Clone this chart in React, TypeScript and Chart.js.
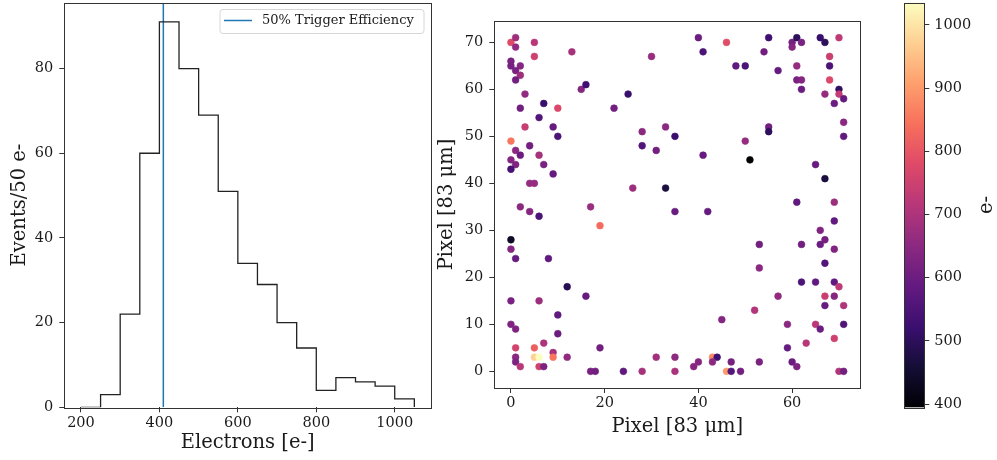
import React, { useEffect, useRef } from 'react';
import { Chart, registerables } from 'chart.js';

Chart.register(...registerables);

// ---------- Histogram data ----------
const binEdges = [200, 250, 300, 350, 400, 450, 500, 550, 600, 650, 700, 750, 800, 850, 900, 950, 1000, 1050];
const eventCounts = [0, 3, 22, 60, 91, 80, 69, 51, 34, 29, 20, 14, 4, 7, 6, 5, 2];
const triggerThreshold = 410;
const electronTicks = [200, 400, 600, 800, 1000];
const countTicks = [0, 20, 40, 60, 80];

// ---------- Scatter data ----------
const pixelX = [
  0, 1, 1, 0, 0, 2, 1, 2, 1, 5, 5, 13, 3, 2, 7, 10, 6, 3, 9, 10,
  0, 4, 1, 0, 2, 6, 1, 7, 0, 9, 4, 5, 2, 4, 6, 0, 15, 16, 17, 19,
  22, 25, 26, 28, 28, 30, 31, 33, 35, 33, 35, 40, 41, 41, 42, 46, 48, 50, 50, 51,
  54, 55, 57, 55, 55, 60, 60, 61, 62, 61, 61, 62, 62, 61, 65, 66, 67, 68, 68, 68,
  70, 67, 70, 70, 69, 71, 71, 71, 67, 69, 69, 66, 67,
  0, 1, 8, 12, 0, 6, 16, 0, 1, 10, 10, 1, 5, 7, 1, 1, 2, 5, 6, 6,
  7, 9, 9, 12, 17, 18, 19, 24, 28, 31, 35, 35, 39, 40, 43, 44, 43, 45, 46, 47,
  47, 49, 52, 53, 53, 53, 57, 59, 59, 60, 61, 62, 62, 63, 65, 65, 66, 66, 67, 67,
  67, 69, 69, 69, 70, 71, 71, 69, 70, 71,
];
const pixelY = [
  70, 71, 69, 66, 65, 65, 64, 63, 62, 70, 67, 68, 59, 56, 57, 56, 54, 52, 52, 50,
  49, 48, 47, 45, 46, 46, 44, 44, 43, 42, 40, 40, 35, 34, 33, 28, 60, 61, 35, 31,
  56, 59, 39, 51, 48, 67, 47, 52, 50, 39, 34, 71, 68, 46, 34, 70, 65, 65, 49, 45,
  68, 71, 64, 52, 51, 70, 69, 71, 70, 65, 62, 62, 60, 36, 44, 71, 70, 67, 65, 62,
  71, 59, 60, 59, 57, 58, 53, 50, 41, 36, 32, 30, 28,
  26, 24, 24, 18, 15, 15, 16, 10, 9, 12, 8, 5, 5, 6, 3, 2, 1, 3, 3, 1,
  1, 4, 3, 3, 0, 0, 5, 0, 0, 3, 3, 0, 1, 2, 3, 3, 2, 11, 0, 0,
  2, 0, 13, 27, 22, 2, 16, 10, 5, 2, 1, 27, 19, 6, 19, 10, 9, 27, 23, 16,
  14, 26, 19, 16, 18, 14, 10, 7, 0, 0,
];
const electrons = [
  780, 680, 660, 620, 615, 640, 620, 680, 610, 715, 755, 690, 660, 610, 520, 775, 560, 740, 590, 550,
  850, 610, 650, 640, 600, 690, 630, 620, 540, 590, 665, 665, 650, 640, 550, 440, 640, 530, 670, 835,
  610, 520, 675, 650, 560, 670, 610, 650, 520, 470, 595, 600, 550, 590, 590, 785, 580, 550, 665, 395,
  610, 530, 590, 610, 500, 615, 640, 500, 620, 665, 620, 640, 600, 580, 590, 520, 500, 745, 550, 775,
  725, 665, 505, 735, 600, 590, 650, 580, 470, 675, 580, 630, 615,
  640, 590, 580, 490, 620, 675, 590, 630, 630, 580, 600, 760, 815, 700, 650, 625, 715, 975, 1035, 755,
  625, 690, 850, 660, 620, 610, 610, 580, 690, 685, 655, 695, 640, 640, 880, 530, 650, 640, 900, 560,
  615, 610, 710, 610, 650, 620, 660, 650, 590, 600, 630, 610, 550, 715, 580, 720, 600, 600, 560, 745,
  590, 630, 580, 640, 725, 705, 555, 755, 705, 610,
];
const pixelTicksX = [0, 20, 40, 60];
const pixelTicksY = [0, 10, 20, 30, 40, 50, 60, 70];
const colorbarTicks = [400, 500, 600, 700, 800, 900, 1000];

// magma colormap (palette, 11 evenly spaced stops)
const magmaStops = ['#000004', '#140e36', '#3b0f70', '#641a80', '#8c2981', '#b73779', '#de4968', '#f7705c', '#fe9f6d', '#fecf92', '#fcfdbf'];

const FONT = "'DejaVu Serif', serif";
const TEXT = '#1a1a1a';
const EDGE = '#333333';

function hexToRgb(h: string) {
  const n = parseInt(h.slice(1), 16);
  return [(n >> 16) & 255, (n >> 8) & 255, n & 255];
}
function magma(t: number) {
  const c = Math.min(1, Math.max(0, t)) * (magmaStops.length - 1);
  const i = Math.min(magmaStops.length - 2, Math.floor(c));
  const f = c - i;
  const a = hexToRgb(magmaStops[i]);
  const b = hexToRgb(magmaStops[i + 1]);
  const r = a.map((v, k) => Math.round(v + (b[k] - v) * f));
  return `rgb(${r[0]},${r[1]},${r[2]})`;
}

const vMin = Math.min(...electrons);
const vMax = Math.max(...electrons);

function fixedTicks(values: number[]) {
  return (s: any) => {
    s.ticks = values.map((v) => ({ value: v }));
  };
}
function fixWidth(w: number) {
  return (s: any) => {
    s.width = w;
    s.paddingTop = 0; s.paddingBottom = 0; s.paddingLeft = 0; s.paddingRight = 0;
  };
}
function fixHeight(h: number) {
  return (s: any) => {
    s.height = h;
    s.paddingTop = 0; s.paddingBottom = 0; s.paddingLeft = 0; s.paddingRight = 0;
  };
}
const plainLabel = (v: any) => String(v);

const framePlugin = {
  id: 'frame',
  afterDatasetsDraw(chart: any) {
    const { ctx, chartArea: a } = chart;
    ctx.save();
    ctx.strokeStyle = EDGE;
    ctx.lineWidth = 1;
    ctx.strokeRect(Math.round(a.left) + 0.5, Math.round(a.top) + 0.5, Math.round(a.right - a.left), Math.round(a.bottom - a.top));
    ctx.restore();
  },
};

const tickFont = { family: FONT, size: 14.5 };
const titleFont = { family: FONT, size: 19.5 };
const gridOpts = { display: true, drawOnChartArea: false, drawTicks: true, tickLength: 5, tickColor: EDGE, tickWidth: 1 };

function HistogramChart() {
  const ref = useRef<HTMLCanvasElement>(null);
  useEffect(() => {
    const yMax = Math.max(...eventCounts) * 1.05;
    const span = binEdges[binEdges.length - 1] - binEdges[0];
    const xMin = binEdges[0] - span * 0.05;
    const xMax = binEdges[binEdges.length - 1] + span * 0.05;
    const histPoints = eventCounts.map((c, i) => ({ x: binEdges[i], y: c }));
    histPoints.push({ x: binEdges[binEdges.length - 1], y: 0 });

    const legendPlugin = {
      id: 'legendBox',
      afterDatasetsDraw(chart: any) {
        const { ctx } = chart;
        const ds = chart.data.datasets[1];
        ctx.save();
        const x = 220, y = 9.5, w = 204, h = 24, r = 3;
        ctx.beginPath();
        ctx.moveTo(x + r, y);
        ctx.arcTo(x + w, y, x + w, y + h, r);
        ctx.arcTo(x + w, y + h, x, y + h, r);
        ctx.arcTo(x, y + h, x, y, r);
        ctx.arcTo(x, y, x + w, y, r);
        ctx.closePath();
        ctx.fillStyle = 'rgba(255,255,255,0.85)';
        ctx.fill();
        ctx.strokeStyle = '#d6d6d6';
        ctx.lineWidth = 1;
        ctx.stroke();
        ctx.beginPath();
        ctx.moveTo(224, 20.5);
        ctx.lineTo(252, 20.5);
        ctx.strokeStyle = ds.borderColor;
        ctx.lineWidth = 1.5;
        ctx.stroke();
        ctx.fillStyle = TEXT;
        ctx.font = `13px ${FONT}`;
        ctx.textBaseline = 'middle';
        ctx.fillText(ds.label, 262, 21);
        ctx.restore();
      },
    };

    const chart = new Chart(ref.current!, {
      type: 'line',
      data: {
        datasets: [
          { label: 'Histogram', data: histPoints, stepped: true, borderColor: '#222222', borderWidth: 1.3, pointRadius: 0, fill: false },
          { label: '50% Trigger Efficiency', data: [{ x: triggerThreshold, y: 0 }, { x: triggerThreshold, y: yMax }], borderColor: '#1f77b4', borderWidth: 1.5, pointRadius: 0, fill: false },
        ],
      },
      options: {
        animation: false,
        responsive: false,
        events: [],
        layout: { padding: { top: 2.7, right: 9, left: 0, bottom: 0 } },
        scales: {
          x: {
            type: 'linear', min: xMin, max: xMax,
            afterFit: fixHeight(52.7),
            afterBuildTicks: fixedTicks(electronTicks),
            ticks: { font: tickFont, color: TEXT, padding: 2, maxRotation: 0, autoSkip: false, callback: plainLabel },
            grid: gridOpts, border: { display: false },
            title: { display: true, text: 'Electrons [e-]', font: titleFont, color: TEXT, padding: { top: 0, bottom: 5.3 } },
          },
          y: {
            type: 'linear', min: 0, max: yMax,
            afterFit: fixWidth(64.3),
            afterBuildTicks: fixedTicks(countTicks),
            ticks: { font: tickFont, color: TEXT, padding: 6, callback: plainLabel },
            grid: gridOpts, border: { display: false },
            title: { display: true, text: 'Events/50 e-', font: titleFont, color: TEXT, padding: { top: 8.3, bottom: 0 } },
          },
        },
        plugins: { legend: { display: false }, tooltip: { enabled: false } },
      },
      plugins: [framePlugin, legendPlugin],
    } as any);
    return () => chart.destroy();
  }, []);
  return <canvas ref={ref} width={440} height={460} style={{ position: 'absolute', left: 0, top: 0 }} />;
}

function ScatterChart() {
  const ref = useRef<HTMLCanvasElement>(null);
  useEffect(() => {
    const xr = Math.max(...pixelX) - Math.min(...pixelX);
    const yr = Math.max(...pixelY) - Math.min(...pixelY);
    const points = pixelX.map((x, i) => ({ x, y: pixelY[i] }));
    const colors = electrons.map((v) => magma((v - vMin) / (vMax - vMin)));
    const chart = new Chart(ref.current!, {
      type: 'scatter',
      data: {
        datasets: [
          { label: 'Hits', data: points, backgroundColor: colors, borderColor: colors, borderWidth: 0.6, pointRadius: 3.4, pointHoverRadius: 3.4 },
        ],
      },
      options: {
        animation: false,
        responsive: false,
        events: [],
        layout: { padding: { top: 21, right: 9.7, left: 0, bottom: 0 } },
        scales: {
          x: {
            type: 'linear', min: Math.min(...pixelX) - xr * 0.05, max: Math.max(...pixelX) + xr * 0.05,
            afterFit: fixHeight(72),
            afterBuildTicks: fixedTicks(pixelTicksX),
            ticks: { font: tickFont, color: TEXT, padding: 2, maxRotation: 0, autoSkip: false, callback: plainLabel },
            grid: gridOpts, border: { display: false },
            title: { display: true, text: 'Pixel [83 μm]', font: titleFont, color: TEXT, padding: { top: 0, bottom: 21.3 } },
          },
          y: {
            type: 'linear', min: Math.min(...pixelY) - yr * 0.05, max: Math.max(...pixelY) + yr * 0.05,
            afterFit: fixWidth(64.3),
            afterBuildTicks: fixedTicks(pixelTicksY),
            ticks: { font: tickFont, color: TEXT, padding: 6, callback: plainLabel },
            grid: gridOpts, border: { display: false },
            title: { display: true, text: 'Pixel [83 μm]', font: titleFont, color: TEXT, padding: { top: 5.3, bottom: 0 } },
          },
        },
        plugins: { legend: { display: false }, tooltip: { enabled: false } },
      },
      plugins: [framePlugin],
    } as any);
    return () => chart.destroy();
  }, []);
  return <canvas ref={ref} width={440} height={460} style={{ position: 'absolute', left: 430, top: 0 }} />;
}

function ColorbarChart() {
  const ref = useRef<HTMLCanvasElement>(null);
  useEffect(() => {
    const gradientPlugin = {
      id: 'gradientBar',
      beforeDatasetsDraw(chart: any) {
        const { ctx, chartArea: a } = chart;
        const ys = chart.scales.y;
        const g = ctx.createLinearGradient(0, ys.getPixelForValue(vMin), 0, ys.getPixelForValue(vMax));
        magmaStops.forEach((c, i) => g.addColorStop(i / (magmaStops.length - 1), c));
        ctx.save();
        ctx.fillStyle = g;
        ctx.fillRect(a.left, a.top, a.right - a.left, a.bottom - a.top);
        ctx.restore();
      },
      afterDraw(chart: any) {
        const { ctx, chartArea: a } = chart;
        ctx.save();
        ctx.translate(106.7, (a.top + a.bottom) / 2);
        ctx.rotate(-Math.PI / 2);
        ctx.font = `19.5px ${FONT}`;
        ctx.fillStyle = TEXT;
        ctx.textAlign = 'center';
        ctx.textBaseline = 'middle';
        ctx.fillText('e-', 0, 0);
        ctx.restore();
      },
    };
    const chart = new Chart(ref.current!, {
      type: 'scatter',
      data: { datasets: [] },
      options: {
        animation: false,
        responsive: false,
        events: [],
        layout: { padding: { top: 2.7, right: 0, left: 24.3, bottom: 52.7 } },
        scales: {
          x: { type: 'linear', display: false, min: 0, max: 1 },
          y: {
            type: 'linear', position: 'right', min: vMin, max: vMax,
            afterFit: fixWidth(72.7),
            afterBuildTicks: fixedTicks(colorbarTicks),
            ticks: { font: tickFont, color: TEXT, padding: 5, callback: plainLabel },
            grid: gridOpts, border: { display: false },
          },
        },
        plugins: { legend: { display: false }, tooltip: { enabled: false } },
      },
      plugins: [gradientPlugin, framePlugin],
    } as any);
    return () => chart.destroy();
  }, []);
  return <canvas ref={ref} width={117} height={460} style={{ position: 'absolute', left: 880, top: 0 }} />;
}

export default function App() {
  return (
    <div style={{ position: 'absolute', left: 0, top: 0, width: 997, height: 460, background: '#ffffff', overflow: 'hidden' }}>
      <HistogramChart />
      <ScatterChart />
      <ColorbarChart />
    </div>
  );
}
